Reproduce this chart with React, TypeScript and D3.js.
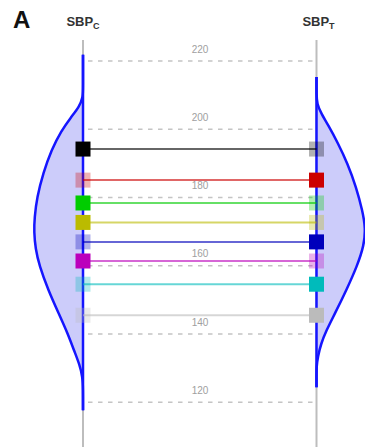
import React from "react";
import * as d3 from "d3";

// Systolic blood pressure per subject (mmHg); each subject drawn as a horizontal link
const subjectIds = ["s1", "s2", "s3", "s4", "s5", "s6", "s7", "s8"];
const sbpValues = [194.2, 185.1, 178.4, 172.7, 167.0, 161.4, 154.6, 145.5];
const subjectColors = ["#000000", "#cc0000", "#00cc00", "#bbbb00", "#0000bb", "#bb00bb", "#00bbbb", "#bbbbbb"];
// which arm the value was observed in: C = control, T = treated
const observedArm = ["C", "T", "C", "C", "T", "C", "T", "T"];

// Gridline ticks
const tickValues = [120, 140, 160, 180, 200, 220];

// Density profiles (value in mmHg, relative density)
const densityCValues = [221.8, 212.0, 209.4, 206.5, 203.5, 199.5, 194.0, 187.2, 180.0, 174.0, 170.0, 165.0, 160.0, 153.0, 146.0, 140.0, 135.0, 131.0, 127.5, 124.0, 117.7];
const densityCLevels = [0, 0, 0, 0.08, 0.25, 0.45, 0.65, 0.82, 0.95, 1.0, 1.01, 0.98, 0.9, 0.72, 0.5, 0.31, 0.18, 0.07, 0.01, 0, 0];
const densityTValues = [215.3, 210.0, 207.5, 204.5, 201.0, 196.0, 190.0, 183.0, 176.0, 171.0, 166.0, 160.0, 153.0, 146.0, 141.0, 137.0, 133.5, 130.5, 127.0, 124.4];
const densityTLevels = [0, 0, 0.01, 0.1, 0.25, 0.44, 0.64, 0.82, 0.95, 1.01, 0.98, 0.84, 0.62, 0.38, 0.2, 0.09, 0.03, 0, 0, 0];

const W = 365;
const H = 447;
const xC = 83;
const xT = 316.5;

export default function App() {
  const y = d3.scaleLinear().domain([120, 220]).range([402.3, 61]);
  const w = d3.scaleLinear().domain([0, 1]).range([0, 48.5]);

  const densC = densityCValues.map((v, i) => ({ v, d: densityCLevels[i] }));
  const densT = densityTValues.map((v, i) => ({ v, d: densityTLevels[i] }));

  const areaC = d3
    .area<{ v: number; d: number }>()
    .y((p) => y(p.v))
    .x0(xC)
    .x1((p) => xC - w(p.d))
    .curve(d3.curveBasis);
  const areaT = d3
    .area<{ v: number; d: number }>()
    .y((p) => y(p.v))
    .x0(xT)
    .x1((p) => xT + w(p.d))
    .curve(d3.curveBasis);
  const lineC = d3
    .line<{ v: number; d: number }>()
    .y((p) => y(p.v))
    .x((p) => xC - w(p.d))
    .curve(d3.curveBasis);
  const lineT = d3
    .line<{ v: number; d: number }>()
    .y((p) => y(p.v))
    .x((p) => xT + w(p.d))
    .curve(d3.curveBasis);

  const sq = 15;
  const font = "'Liberation Sans', Arial, sans-serif";

  return (
    <svg
      width={W}
      height={H}
      style={{ position: "absolute", left: 0, top: 0, background: "#fff" }}
      fontFamily={font}
    >
      {/* panel letter and arm labels */}
      <text x={13} y={28} fontSize={24} fontWeight="bold" fill="#111">A</text>
      <text x={xC} y={26} textAnchor="middle" fontSize={13} fontWeight="bold" fill="#333">
        SBP<tspan fontSize={9} dy={2.5}>C</tspan>
      </text>
      <text x={xT + 2} y={26} textAnchor="middle" fontSize={13} fontWeight="bold" fill="#333">
        SBP<tspan fontSize={9} dy={2.5}>T</tspan>
      </text>

      {/* gridlines */}
      {tickValues.map((t) => (
        <g key={t}>
          <line
            x1={xC + 5}
            x2={xT - 2}
            y1={y(t)}
            y2={y(t)}
            stroke="#c4c4c4"
            strokeWidth={1.5}
            strokeDasharray="4.5,5.5"
          />
          <text x={200} y={y(t) - 8.5} textAnchor="middle" fontSize={10} fill="#a0a0a0">
            {t}
          </text>
        </g>
      ))}

      {/* axes */}
      <line x1={xC} x2={xC} y1={40} y2={H} stroke="#bdbdbd" strokeWidth={2} />
      <line x1={xT} x2={xT} y1={40} y2={H} stroke="#bdbdbd" strokeWidth={2} />

      {/* densities */}
      <path d={areaC(densC) || ""} fill="#ccccfa" />
      <path d={areaT(densT) || ""} fill="#ccccfa" />
      <path d={lineC(densC) || ""} fill="none" stroke="#1515ff" strokeWidth={2.5} />
      <path d={lineT(densT) || ""} fill="none" stroke="#1515ff" strokeWidth={2.5} />
      <line x1={xC} x2={xC} y1={y(densityCValues[0])} y2={y(densityCValues[densityCValues.length - 1])} stroke="#1515ff" strokeWidth={2.5} />
      <line x1={xT} x2={xT} y1={y(densityTValues[0])} y2={y(densityTValues[densityTValues.length - 1])} stroke="#1515ff" strokeWidth={2.5} />

      {/* subject links */}
      {subjectIds.map((id, i) => (
        <line
          key={id + "-link"}
          x1={xC}
          x2={xT}
          y1={y(sbpValues[i])}
          y2={y(sbpValues[i])}
          stroke={subjectColors[i]}
          strokeOpacity={0.6}
          strokeWidth={2}
        />
      ))}

      {/* observed (solid) and counterfactual (faded) markers */}
      {subjectIds.map((id, i) => {
        const cy = y(sbpValues[i]);
        const solidC = observedArm[i] === "C";
        return (
          <g key={id}>
            <rect
              x={xC - sq / 2}
              y={cy - sq / 2}
              width={sq}
              height={sq}
              fill={subjectColors[i]}
              fillOpacity={solidC ? 1 : 0.3}
            />
            <rect
              x={xT - sq / 2}
              y={cy - sq / 2}
              width={sq}
              height={sq}
              fill={subjectColors[i]}
              fillOpacity={solidC ? 0.3 : 1}
            />
          </g>
        );
      })}
    </svg>
  );
}
